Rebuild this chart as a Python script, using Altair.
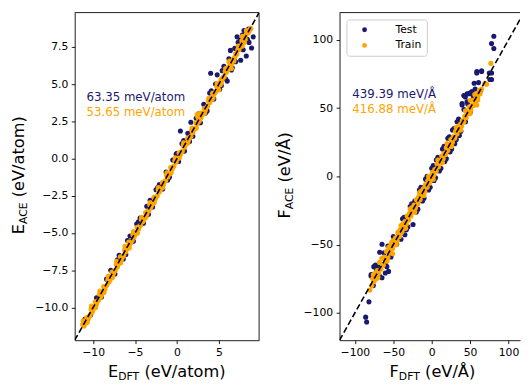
import altair as alt
import pandas as pd

NAVY = "#191970"
ORANGE = "#ffa500"
FONT = "DejaVu Sans"

# ---------------- data (DFT, ACE) ----------------
E_TEST = [
    (-11.0, -10.8), (-10.3, -10.5), (-9.6, -9.35), (-9.0, -9.3), (-8.4, -8.1),
    (-7.9, -7.5), (-7.4, -7.75), (-7.1, -6.8), (-6.9, -6.5), (-6.4, -6.75),
    (-6.1, -6.45), (-5.9, -5.5), (-5.6, -5.2), (-5.2, -5.55), (-4.8, -4.4),
    (-4.6, -4.25), (-4.4, -4.0), (-4.0, -4.35), (-3.6, -3.2), (-3.4, -3.75),
    (-3.2, -2.8), (-2.9, -3.25), (-2.5, -2.1), (-2.3, -1.95), (-2.1, -1.75),
    (-1.7, -2.05), (-1.3, -0.9), (-1.1, -1.45), (-0.9, -1.25), (-0.5, -0.1),
    (-0.1, 0.3), (0.0, 0.35), (0.2, -0.2), (0.41, 1.85), (0.6, 1.0),
    (0.8, 1.2), (0.9, 0.5), (1.3, 1.7), (1.5, 1.15), (1.66, 2.44),
    (1.9, 1.5), (2.3, 2.7), (2.6, 3.0), (2.8, 2.4), (3.2, 3.65),
    (3.4, 3.05), (3.6, 3.2), (3.9, 4.4), (4.02, 5.73), (4.1, 4.55),
    (4.4, 4.0), (4.6, 5.0), (4.8, 5.62), (5.1, 4.65), (5.3, 4.9),
    (5.4, 5.9), (5.6, 6.2), (5.8, 5.35), (6.0, 5.2), (6.2, 6.7),
    (6.38, 7.26), (6.5, 5.95), (6.6, 6.1), (6.8, 6.6), (6.9, 7.4),
    (7.0, 6.5), (7.17, 8.17), (7.3, 7.8), (7.56, 7.96), (7.6, 6.6),
    (7.8, 8.3), (7.9, 7.3), (8.0, 8.6), (8.27, 6.89), (8.4, 8.0),
    (8.55, 8.7), (8.6, 7.8), (8.9, 7.42), (9.1, 8.17),
]

E_TRAIN = [
    (-11.25, -11.15), (-11.0, -11.12), (-10.75, -10.68), (-10.5, -10.62), (-10.25, -10.1),
    (-10.0, -10.15), (-9.75, -9.62), (-9.5, -9.6), (-9.25, -9.12), (-9.0, -9.18),
    (-8.75, -8.6), (-8.5, -8.58), (-8.25, -8.15), (-8.0, -8.14), (-7.75, -7.62),
    (-7.5, -7.6), (-7.25, -7.1), (-7.0, -7.12), (-6.75, -6.6), (-6.5, -6.62),
    (-6.25, -6.14), (-6.0, -6.05), (-5.75, -5.6), (-5.5, -5.62), (-5.25, -5.12),
    (-5.0, -5.1), (-4.75, -4.62), (-4.5, -4.58), (-4.25, -4.1), (-4.0, -4.14),
    (-3.75, -3.62), (-3.5, -3.55), (-3.25, -3.1), (-3.0, -3.12), (-2.75, -2.6),
    (-2.5, -2.6), (-2.25, -2.1), (-2.0, -2.1), (-1.75, -1.62), (-1.5, -1.55),
    (-1.25, -1.12), (-1.0, -1.08), (-0.75, -0.6), (-0.5, -0.58), (-0.25, -0.15),
    (0.0, -0.05), (0.25, 0.38), (0.5, 0.42), (0.75, 0.88), (1.0, 0.95),
    (1.25, 1.35), (1.5, 1.42), (1.75, 1.88), (2.0, 1.95), (2.25, 2.4),
    (2.5, 2.78), (2.75, 2.9), (3.0, 2.95), (3.25, 3.35), (3.5, 3.42),
    (3.75, 3.88), (4.0, 3.9), (4.25, 4.38), (4.5, 4.4), (4.75, 4.85),
    (5.0, 4.6), (5.25, 5.3), (5.5, 5.45), (5.75, 5.85), (6.0, 6.1),
    (6.25, 6.2), (6.5, 6.3), (6.75, 6.7), (7.0, 7.05), (7.25, 7.3),
    (7.5, 7.55), (7.75, 7.9), (8.0, 8.1), (8.25, 8.3), (8.5, 8.45),
    (8.75, 8.7),
    (-11.1, -11.25), (-10.9, -11.0), (-10.6, -10.8), (-10.35, -10.5), (-10.1, -10.3),
    (-9.85, -10.0), (-9.6, -9.78), (-9.35, -9.5), (-9.1, -9.3), (-8.85, -9.0),
    (-8.6, -8.78), (-8.35, -8.5), (-8.1, -8.28), (-7.85, -8.0), (-7.6, -7.76),
    (-7.35, -7.5), (-7.1, -7.28), (-6.85, -7.0), (-6.6, -6.75), (-6.35, -6.5),
    (-6.1, -6.26), (-5.85, -6.0), (-5.6, -5.76), (-5.35, -5.5), (-5.1, -5.25),
    (-4.85, -5.0), (-4.6, -4.75), (-4.35, -4.5), (-4.1, -4.24), (-3.85, -4.0),
    (-3.6, -3.75), (-3.35, -3.5), (-3.1, -3.24), (-2.85, -3.0), (-2.6, -2.74),
    (-2.35, -2.5), (-2.1, -2.25), (-1.85, -2.0), (-1.6, -1.74), (-1.35, -1.5),
    (-1.1, -1.24), (-0.85, -1.0), (-0.6, -0.74), (-0.35, -0.5), (-0.1, -0.25),
    (0.15, 0.02), (0.4, 0.26), (0.65, 0.5), (0.9, 0.76), (1.15, 1.0),
    (1.4, 1.26), (1.65, 1.5), (1.9, 1.75), (2.15, 2.0), (2.4, 2.3),
    (2.65, 2.5), (2.9, 2.76), (3.15, 3.0), (3.4, 3.26), (3.65, 3.5),
    (3.9, 3.76), (4.15, 4.0), (4.4, 4.3), (4.65, 4.5), (4.9, 4.8),
    (5.15, 4.95), (5.4, 5.3), (5.65, 5.5), (5.9, 5.8), (6.15, 6.0),
    (6.4, 6.4), (6.6, 6.55), (6.9, 6.8), (7.15, 7.0), (7.4, 7.3),
    (7.65, 7.55), (7.9, 7.95), (8.15, 8.0), (8.4, 8.5), (8.6, 8.55),
    (8.8, 8.75),
    (-11.2, -10.9), (-10.7, -11.0), (-10.2, -9.9), (-9.7, -10.0), (-9.2, -8.9),
    (-8.7, -9.0), (-8.2, -7.9), (-7.7, -8.0), (-7.2, -6.9), (-6.7, -7.0),
    (-6.2, -5.9), (-5.7, -6.0), (-5.2, -4.9), (-4.7, -5.0), (-4.2, -3.95),
    (-3.7, -3.95), (-3.2, -2.95), (-2.7, -2.95), (-2.2, -1.95), (-1.7, -1.95),
    (-1.2, -0.95), (-0.7, -0.95), (-0.2, 0.05), (0.3, 0.05), (0.8, 1.05),
    (1.3, 1.05), (1.8, 2.05), (2.3, 2.05), (2.8, 3.05), (3.3, 3.05),
    (3.8, 4.05), (4.3, 4.05), (4.8, 5.05), (5.3, 5.05), (5.8, 6.05),
    (6.3, 6.55), (6.8, 6.55), (7.3, 7.55), (7.8, 7.55), (8.3, 8.55),
    (6.2, 6.5), (6.5, 6.05), (8.0, 7.8), (8.3, 8.6), (7.8, 8.2),
    (2.4, 2.95), (2.6, 2.65),
]

F_TEST = [
    (-79, -73), (-76, -80), (-73.2, -64.9), (-72, -68), (-70, -66),
    (-68, -73), (-67.7, -55.6), (-64.7, -49.7), (-64.7, -74.3), (-62, -56),
    (-60.4, -70.8), (-60, -65), (-58.4, -66.1), (-57, -51), (-56.2, -69.6),
    (-54, -56.7), (-53, -59), (-50, -44), (-47.6, -48), (-45.6, -49.7),
    (-43.4, -41.5), (-40, -46), (-38, -31), (-36, -30), (-34.9, -42.7),
    (-33, -39), (-31, -37), (-28, -22), (-26, -20), (-24.3, -35.2),
    (-22.1, -18.1), (-20, -26), (-18, -24), (-16, -10), (-14, -8),
    (-12, -18), (-10, -16), (-8, -2), (-6, 0), (-4, -10),
    (-2, -8), (0, 6), (2, 8), (3, -3), (5, -1),
    (6, 12), (8, 14), (10, 4), (12, 6), (14, 20),
    (16, 22), (17, 11), (19, 13), (21, 28), (23, 29),
    (24, 18), (26, 20), (27, 34), (29, 35), (30, 24),
    (32, 27), (33, 40), (35, 42), (36, 30), (38, 33),
    (39.6, 53.4), (39.6, 52.3), (41.8, 59.3), (42, 49), (43.8, 58.2),
    (44, 40), (46, 60.5), (46, 54.6), (47, 53), (48.1, 60.5),
    (50, 47), (50.2, 61.2), (52.4, 62.1), (53, 60), (54.5, 57),
    (55.3, 68.2), (56.6, 64), (58.8, 76.9), (58.7, 75.7), (58.8, 58.2),
    (61, 68.7), (63, 62.4), (65, 77.4), (65, 76.9), (75, 75.7),
    (77.9, 71), (75.7, 71), (78, 75.7), (80.9, 102.7), (77.9, 97.3),
    (80.9, 93.7), (-81.7, -91.9), (-86, -103.1), (-84.7, -106.7), (-75.4, -66.1),
    (-78.8, -71.9),
]

F_TRAIN = [
    (-80.5, -83.2), (-77, -75), (-74, -71), (-71, -69), (-68, -63),
    (-65, -60), (-62, -59), (-59, -55), (-56, -52), (-53, -50),
    (-50, -47), (-47, -45), (-44, -41), (-41, -39), (-38, -35),
    (-35, -33), (-32, -29), (-29, -27), (-26, -23), (-23, -21),
    (-20, -17), (-17, -15), (-14, -11), (-11, -9), (-8, -6),
    (-5, -3), (-2, 0), (1, 3), (4, 5), (7, 9),
    (10, 11), (13, 15), (16, 17), (19, 21), (22, 23),
    (25, 27), (28, 29), (31, 33), (34, 35), (37, 38),
    (40, 41), (43, 44), (46, 47), (49, 51), (52, 52),
    (55, 56), (58, 57), (61, 61), (63, 60.5), (69.3, 68.2),
    (77, 82.8), (71.5, 67.5), (56.6, 54.6), (58.7, 52.3), (50.2, 55.8),
    (-78, -80), (-75, -77), (-72, -75), (-69, -71), (-66, -68),
    (-63, -65), (-60, -62), (-57, -59), (-54, -56), (-51, -53),
    (-50.7, -56.7), (-48, -50), (-45, -47), (-42, -44), (-39, -41),
    (-36, -38), (-33, -35), (-30, -32), (-27, -29), (-24, -26),
    (-21, -23), (-18, -20), (-15, -17), (-12, -14), (-9, -11),
    (-6, -8), (-3, -5), (0, -2), (3, 1), (6, 4),
    (9, 7), (12, 10), (15, 13), (18, 16), (21, 19),
    (24, 22), (27, 25), (30, 28), (33, 31), (36, 34),
    (39, 37), (42, 40), (45, 43), (48, 46), (51, 49),
    (54, 52), (57, 55), (60, 58), (62, 63), (65, 64),
    (-76, -72), (-70, -74), (-64, -60), (-58, -62), (-52, -48),
    (-46, -50), (-40, -36), (-34, -38), (-28, -24), (-22, -26),
    (-16, -12), (-10, -14), (-4, 0), (2, -2), (8, 12),
    (14, 10), (20, 24), (26, 22), (32, 36), (38, 34),
    (44, 48), (50, 46), (56, 60), (60, 56),
]

E_LIM = [-12.2, 9.8]
F_XLIM = [-120, 115]
F_YLIM = [-120, 120]
F_LINE = [-120, 120]
E_XTICKS = [-10, -5, 0, 5]
E_YTICKS = [-10, -7.5, -5, -2.5, 0, 2.5, 5, 7.5]
F_TICKS = [-100, -50, 0, 50, 100]
E_RMSE = ["63.35 meV/atom", "53.65 meV/atom"]
F_RMSE = ["439.39 meV/Å", "416.88 meV/Å"]
SETS = ["Test", "Train"]

W1, W2, H = 188, 184, 334
TITLE_FS, SUB_FS = 16.5, 11


def points_df(test, train):
    rows = [{"dft": a, "ace": b, "set": "Test"} for a, b in test]
    rows += [{"dft": a, "ace": b, "set": "Train"} for a, b in train]
    return pd.DataFrame(rows)


def txt(s, x, y, size, color="black", angle=0):
    return alt.Chart(pd.DataFrame({"t": [s]})).mark_text(
        font=FONT, fontSize=size, color=color, align="left",
        baseline="alphabetic", angle=angle
    ).encode(text="t:N", x=alt.value(x), y=alt.value(y))


def one():
    return pd.DataFrame({"a": [0]})


def panel(test, train, xdom, ydom, line_lim, xticks, yticks, yfmt, width,
          rmse, rmse_pos, legend, xt, yt, right_border, left_extent):
    xs = alt.Scale(domain=xdom, nice=False, zero=False)
    ys = alt.Scale(domain=ydom, nice=False, zero=False)
    xax = alt.Axis(values=xticks, format="d", title=None, grid=False)
    yax = alt.Axis(values=yticks, format=yfmt, title=None, grid=False)
    pts = alt.Chart(points_df(test, train)).mark_circle(size=27, opacity=1).encode(
        x=alt.X("dft:Q", scale=xs, axis=xax),
        y=alt.Y("ace:Q", scale=ys, axis=yax),
        color=alt.Color("set:N", scale=alt.Scale(domain=SETS, range=[NAVY, ORANGE]),
                        legend=legend),
    )
    line = alt.Chart(pd.DataFrame({"dft": line_lim, "ace": line_lim})).mark_line(
        color="black", strokeDash=[6, 3], strokeWidth=1.6, clip=True
    ).encode(x=alt.X("dft:Q", scale=xs, axis=xax), y=alt.Y("ace:Q", scale=ys, axis=yax))
    layers = [pts, line]
    layers.append(alt.Chart(one()).mark_rule(color="black", strokeWidth=0.9).encode(
        x=alt.value(0), x2=alt.value(width), y=alt.value(0)))
    if right_border:
        layers.append(alt.Chart(one()).mark_rule(color="black", strokeWidth=0.9).encode(
            x=alt.value(width), y=alt.value(0), y2=alt.value(H)))
    # white spacer fixing the room left of the plot
    layers.append(alt.Chart(one()).mark_rule(color="white", strokeWidth=1).encode(
        x=alt.value(-left_extent), y=alt.value(0), y2=alt.value(2)))
    (rx, ry1, ry2) = rmse_pos
    layers.append(txt(rmse[0], rx, ry1, 12, NAVY))
    layers.append(txt(rmse[1], rx, ry2, 12, ORANGE))
    # x-axis title with subscript
    (big, sub, rest, x0) = xt
    bw = 0.632 if big == "E" else 0.575
    xb = H + 38
    layers.append(txt(big, x0, xb, TITLE_FS))
    layers.append(txt(sub, x0 + bw * TITLE_FS, xb + 2.5, SUB_FS))
    layers.append(txt(rest, x0 + bw * TITLE_FS + 1.956 * SUB_FS + 5.2, xb, TITLE_FS))
    # y-axis title with subscript (rotated)
    (ybig, ysub, yrest, yx, ystart) = yt
    layers.append(txt(ybig, yx, ystart, TITLE_FS, angle=270))
    y_sub = ystart - bw * TITLE_FS
    layers.append(txt(ysub, yx + 2.5, y_sub, SUB_FS, angle=270))
    layers.append(txt(yrest, yx, y_sub - 2.014 * SUB_FS - 5.2, TITLE_FS, angle=270))
    return alt.layer(*layers).properties(width=width, height=H)


left = panel(
    E_TEST, E_TRAIN, E_LIM, E_LIM, E_LIM, E_XTICKS, E_YTICKS, ".1f", W1,
    E_RMSE, (12, 90, 105), None,
    ("E", "DFT", "(eV/atom)", 34),
    ("E", "ACE", "(eV/atom)", -51.5, 226),
    True, 67,
)

legend = alt.Legend(
    title=None, orient="top-left", offset=7, padding=5, strokeColor="#cccccc",
    cornerRadius=3, fillColor="white", symbolType="circle", symbolSize=24,
    symbolStrokeWidth=0, labelFont=FONT, labelFontSize=11, labelColor="black",
    symbolOffset=8, labelOffset=26, rowPadding=4,
)

right = panel(
    F_TEST, F_TRAIN, F_XLIM, F_YLIM, F_LINE, F_TICKS, F_TICKS, "d", W2,
    F_RMSE, (13, 87, 102), legend,
    ("F", "DFT", "(eV/Å)", 51),
    ("F", "ACE", "(eV/Å)", -50, 210),
    False, 63.5,
)

chart = alt.hconcat(left, right, spacing=17, padding=0).resolve_scale(
    color="independent"
).resolve_legend(color="independent").configure_view(stroke=None).configure_axis(
    labelFont=FONT, labelFontSize=11, labelColor="black", tickColor="black",
    domainColor="black", tickSize=3.5, tickWidth=0.9, domainWidth=0.9,
    labelPadding=3.5, grid=False,
)

chart.save("out.html", embed_options={"renderer": "svg", "actions": False})
